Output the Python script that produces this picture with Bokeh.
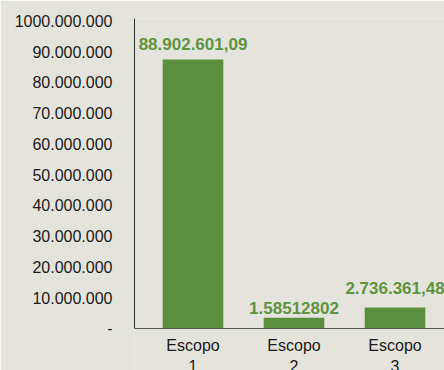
from bokeh.plotting import figure
from bokeh.models import FixedTicker, ColumnDataSource, Range1d, Span
from bokeh.core.properties import value
from bokeh.embed import file_html
from bokeh.resources import INLINE

# --- data ---
categories = ["Escopo\n1", "Escopo\n2", "Escopo\n3"]
emissions = [87.5e6, 3.5e6, 6.8e6]
bar_labels = ["88.902.601,09", "1.58512802", "2.736.361,48"]
y_ticks = [0, 10e6, 20e6, 30e6, 40e6, 50e6, 60e6, 70e6, 80e6, 90e6, 100e6]
y_tick_labels = ["-", "10.000.000", "20.000.000", "30.000.000", "40.000.000",
                 "50.000.000", "60.000.000", "70.000.000", "80.000.000",
                 "90.000.000", "1000.000.000"]

# --- styles ---
BG = "#e5e4dc"
BAR = "#5b8f3f"
LABEL = "#5e9441"
FONT = "Liberation Sans"
label_offsets = [-15, -10, -20]  # pixel gaps above the bars

Y_TOP = 100.8e6
Y_BOTTOM = -13.66e6  # room below the baseline for the category labels

xs = list(range(1, len(categories) + 1))
src = ColumnDataSource(dict(x=xs, top=emissions, label=bar_labels,
                            yoff=label_offsets, cat=categories,
                            zero=[0] * len(xs)))

p = figure(width=444, height=370, output_backend="svg", toolbar_location=None,
           x_range=Range1d(0.4208, 3.49), y_range=Range1d(Y_BOTTOM, Y_TOP),
           x_axis_location=None,
           min_border_left=134, min_border_right=0, min_border_top=18,
           min_border_bottom=0)
p.background_fill_color = BG
p.border_fill_color = BG
p.outline_line_color = None
p.xgrid.visible = False
p.ygrid.visible = False

p.vbar(x="x", top="top", width=0.6, bottom=0, source=src,
       fill_color=BAR, line_color=None)
p.text(x="x", y="top", text="label", y_offset="yoff", source=src,
       text_align="center", text_baseline="alphabetic",
       text_color=LABEL, text_font=value(FONT), text_font_size="17px",
       text_font_style="bold")

# baseline (x axis line)
p.add_layout(Span(location=0, dimension="width", line_color="#555555",
                  line_width=1))

# category labels under the baseline
p.text(x="x", y="zero", text="cat", y_offset=9, source=src,
       text_align="center", text_baseline="top",
       text_font=value(FONT), text_font_size="16px",
       text_color="#1a1a1a", text_line_height=1.2)

# y axis
ya = p.yaxis[0]
ya.bounds = (0, Y_TOP)
ya.ticker = FixedTicker(ticks=y_ticks)
ya.major_label_overrides = {t: l for t, l in zip(y_ticks, y_tick_labels)}
ya.major_tick_line_color = None
ya.minor_tick_line_color = None
ya.major_tick_out = 0
ya.major_label_standoff = 22
ya.axis_line_color = "#333333"
ya.major_label_text_font = FONT
ya.major_label_text_font_size = "16px"
ya.major_label_text_color = "#1a1a1a"

open("out.html", "w").write(file_html(p, INLINE))
